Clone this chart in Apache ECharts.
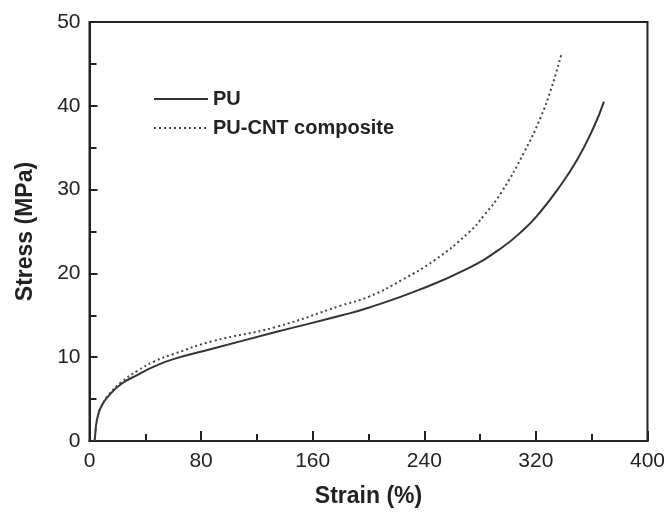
<!DOCTYPE html>
<html>
<head>
<meta charset="utf-8">
<script src="https://cdn.jsdelivr.net/npm/echarts@6/dist/echarts.min.js"></script>
<style>html,body{margin:0;padding:0;background:#fff;}#c{width:668px;height:515px;}</style>
</head>
<body>
<div id="c"></div>
<script>
const xTicks = [0, 80, 160, 240, 320, 400];
const yTicks = [0, 10, 20, 30, 40, 50];
const seriesNames = ['PU', 'PU-CNT composite'];
const puStrain = [3.7, 4.2, 4.9, 6.5, 8.4, 13.2, 22.7, 34.6, 46.5, 60.7, 88, 133.5, 181, 200, 235.7, 271.3, 295, 311.7, 322, 335.5, 349.7, 361.6, 368.8];
const puStress = [0, 1.0, 2.1, 3.3, 4.1, 5.3, 6.8, 7.9, 8.9, 9.8, 11.0, 13.0, 15.0, 15.9, 18.0, 20.6, 23.0, 25.3, 27.1, 30.0, 33.6, 37.5, 40.5];
const cntStrain = [3.7, 4.2, 4.9, 6.5, 8.4, 13.2, 22.7, 34.6, 46.5, 60.7, 88, 133.5, 181, 200, 223.7, 247.5, 271.3, 283.2, 295, 311.7, 323.6, 330.7, 338.5];
const cntStress = [0, 1.0, 2.1, 3.3, 4.1, 5.4, 7.0, 8.4, 9.5, 10.4, 11.9, 13.6, 16.2, 17.2, 19.2, 21.6, 24.8, 27.0, 29.6, 34.5, 38.7, 41.9, 46.3];

const zip = (a, b) => a.map((v, i) => [v, b[i]]);
const chart = echarts.init(document.getElementById('c'), null, {renderer: 'canvas'});
const txt = '#222';
chart.setOption({
  animation: false,
  backgroundColor: '#fff',
  grid: {left: 89.5, right: 18, top: 22, bottom: 74, show: true, borderColor: '#222', borderWidth: 2, backgroundColor: 'transparent'},
  legend: {
    orient: 'vertical', left: 148, top: 84, itemWidth: 54, itemHeight: 14, itemGap: 9,
    data: seriesNames,
    itemStyle: {opacity: 0},
    textStyle: {fontFamily: 'Liberation Sans', fontWeight: 'bold', fontSize: 20, color: txt}
  },
  xAxis: {
    type: 'value', min: xTicks[0], max: xTicks[xTicks.length - 1], interval: 80,
    name: 'Strain (%)', nameLocation: 'middle', nameGap: 44,
    nameTextStyle: {fontFamily: 'Liberation Sans', fontWeight: 'bold', fontSize: 23, color: txt},
    axisLine: {show: true, lineStyle: {color: '#222', width: 2}},
    axisTick: {show: true, inside: true, length: 10, lineStyle: {color: '#222', width: 2}},
    minorTick: {show: true, splitNumber: 2, length: 7, lineStyle: {color: '#222', width: 2}},
    splitLine: {show: false},
    axisLabel: {fontFamily: 'Liberation Sans', fontSize: 21, color: txt, margin: 10}
  },
  yAxis: {
    type: 'value', min: yTicks[0], max: yTicks[yTicks.length - 1], interval: 10,
    name: 'Stress (MPa)', nameLocation: 'middle', nameGap: 52,
    nameTextStyle: {fontFamily: 'Liberation Sans', fontWeight: 'bold', fontSize: 23, color: txt},
    axisLine: {show: true, lineStyle: {color: '#222', width: 2}},
    axisTick: {show: true, inside: true, length: 8, lineStyle: {color: '#222', width: 2}},
    minorTick: {show: true, splitNumber: 2, length: 7, lineStyle: {color: '#222', width: 2}},
    splitLine: {show: false},
    axisLabel: {fontFamily: 'Liberation Sans', fontSize: 21, color: txt, margin: 9}
  },
  series: [
    {name: seriesNames[0], type: 'line', data: zip(puStrain, puStress), showSymbol: false, symbol: 'none',
     smooth: 0.5, lineStyle: {color: '#333', width: 2}, itemStyle: {color: '#333'}},
    {name: seriesNames[1], type: 'line', data: zip(cntStrain, cntStress), showSymbol: false, symbol: 'none',
     smooth: 0.5, lineStyle: {color: '#444', width: 2, type: [2, 3]}, itemStyle: {color: '#444'}}
  ]
});
</script>
</body>
</html>
